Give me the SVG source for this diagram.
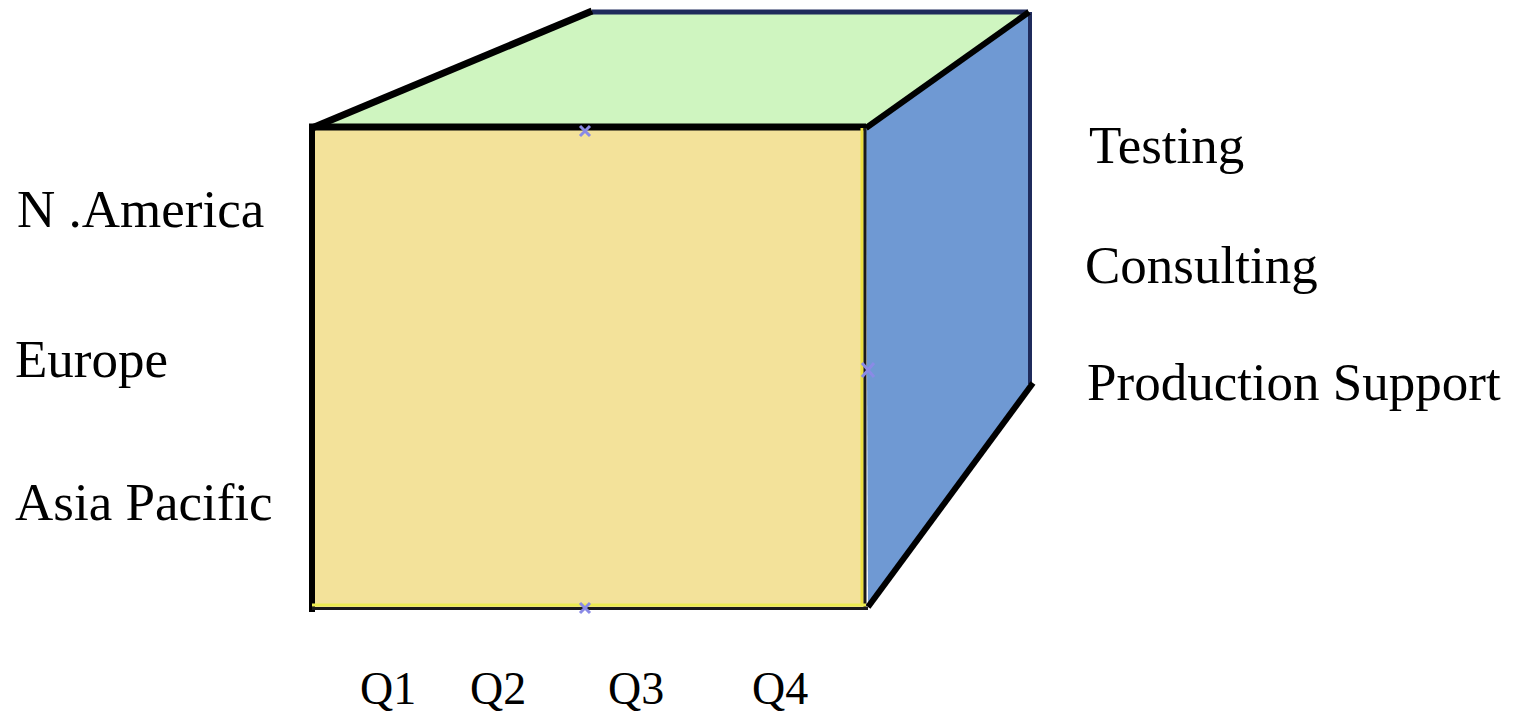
<svg xmlns="http://www.w3.org/2000/svg" width="1522" height="715" viewBox="0 0 1522 715">
<style>
.lbl{font-family:"Liberation Serif","Times New Roman",serif;font-size:53px;fill:#000}
.q{font-family:"Liberation Serif","Times New Roman",serif;font-size:46px;fill:#000}
.mk{stroke:#8a8ae6;stroke-width:3;fill:none}
</style>
<rect width="1522" height="715" fill="#fff"/>
<g id="cube">
<polygon id="top" points="312,127 592,11 1028,11 866,127" fill="#cff5c0"/>
<polygon id="right" points="866,127 1028,11 1031,384 868,607" fill="#6f99d3"/>
<rect id="front" x="312" y="128" width="553" height="480" fill="#f3e29a"/>
<line x1="592" y1="12" x2="1028" y2="12" stroke="#1f2b5c" stroke-width="5"/>
<line x1="1030" y1="12" x2="1030" y2="384" stroke="#1f2b5c" stroke-width="4"/>
<line x1="312" y1="128" x2="592" y2="11" stroke="#000" stroke-width="7"/>
<line x1="866" y1="128" x2="1029" y2="12" stroke="#000" stroke-width="6"/>
<line x1="1033" y1="383" x2="868" y2="607" stroke="#000" stroke-width="6"/>
<line x1="309" y1="127" x2="866" y2="127" stroke="#000" stroke-width="7"/>
<line x1="312" y1="124" x2="312" y2="612" stroke="#000" stroke-width="6"/>
<line x1="862" y1="128" x2="862" y2="606" stroke="#ece040" stroke-width="3"/>
<line x1="865" y1="128" x2="865" y2="608" stroke="#1a1a1a" stroke-width="3"/>
<line x1="312" y1="605" x2="866" y2="605" stroke="#ecec50" stroke-width="3"/>
<line x1="312" y1="608.5" x2="868" y2="608.5" stroke="#1a1a1a" stroke-width="3"/>
</g>
<g id="markers">
<path class="mk" d="M580,126 L590,136 M590,126 L580,136"/>
<path class="mk" d="M862,363 L874,377 M874,363 L862,377"/>
<path class="mk" d="M580,603 L590,613 M590,603 L580,613"/>
</g>
<g id="labels">
<text class="lbl" x="17" y="227">N .America</text>
<text class="lbl" x="15" y="377">Europe</text>
<text class="lbl" x="15" y="520">Asia Pacific</text>
<text class="lbl" x="1089" y="163">Testing</text>
<text class="lbl" x="1085" y="283">Consulting</text>
<text class="lbl" x="1087" y="400">Production Support</text>
<text class="q" x="360" y="704">Q1</text>
<text class="q" x="470" y="704">Q2</text>
<text class="q" x="608" y="704">Q3</text>
<text class="q" x="752" y="704">Q4</text>
</g>
</svg>
